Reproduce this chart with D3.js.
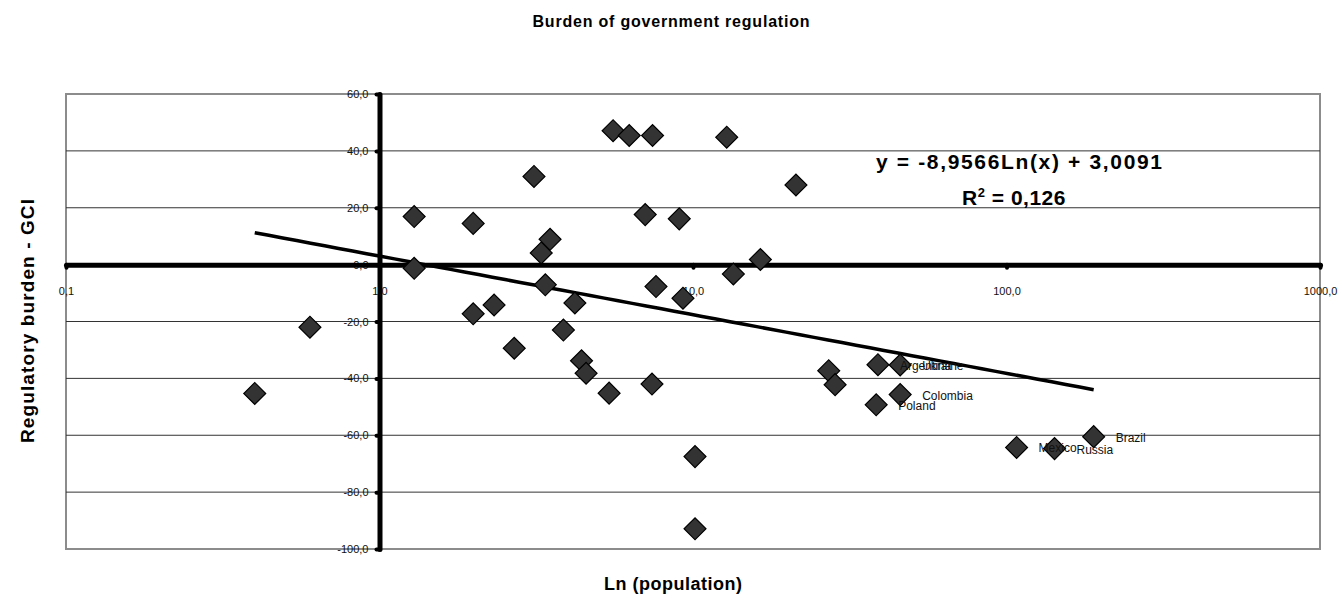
<!DOCTYPE html>
<html>
<head>
<meta charset="utf-8">
<script src="https://cdn.jsdelivr.net/npm/d3@7"></script>
<style>
  body { margin: 0; background: #fff; }
  svg { font-family: Arial, "Liberation Sans", sans-serif; }
</style>
</head>
<body>
<svg></svg>

<script>

  // population (millions) and regulatory burden score
  var population = [0.40, 0.60, 1.29, 1.29, 1.99, 1.99, 2.32, 2.69, 3.11, 3.28,
                    3.50, 3.38, 3.86, 4.20, 4.41, 4.56, 5.40, 5.56, 6.26, 7.43,
                    7.04, 7.40, 7.62, 9.04, 9.29, 10.15, 10.15, 12.81, 13.45, 16.40,
                    21.3, 27.1, 28.4, 38.9, 38.4, 45.8, 45.8, 107.7, 142.3, 189.7];
  var burden = [-45.3, -22.0, 16.9, -1.3, 14.5, -17.3, -14.2, -29.4, 31.0, 4.1,
                8.9, -7.1, -23.0, -13.5, -33.8, -38.2, -45.2, 47.1, 45.4, 45.4,
                17.6, -42.0, -7.7, 16.1, -11.8, -67.5, -92.9, 44.8, -3.3, 1.8,
                28.0, -37.3, -42.2, -35.2, -49.3, -35.3, -45.7, -64.3, -64.7, -60.5];
  var names = ["", "", "", "", "", "", "", "", "", "",
               "", "", "", "", "", "", "", "", "", "",
               "", "", "", "", "", "", "", "", "", "",
               "", "", "", "Argentina", "Poland", "Ukraine", "Colombia", "Mexico", "Russia", "Brazil"];

  var xTicks = [0.1, 1, 10, 100, 1000];
  var xTickLabels = ["0,1", "1,0", "10,0", "100,0", "1000,0"];
  var yTicks = [60, 40, 20, 0, -20, -40, -60, -80, -100];
  var yTickLabels = ["60,0", "40,0", "20,0", "0,0", "-20,0", "-40,0", "-60,0", "-80,0", "-100,0"];

  // log trend line shown on the chart
  var trendSlope = -8.9566;
  var trendIntercept = 3.0091;

  var svg = d3.select("svg").attr("width", 1342).attr("height", 603);

  var x = d3.scaleLog().domain([0.1, 1000]).range([66, 1320]);
  var y = d3.scaleLinear().domain([-100, 60]).range([549, 94]);

  // plot frame
  svg.append("rect")
    .attr("x", x(0.1)).attr("y", y(60))
    .attr("width", x(1000) - x(0.1)).attr("height", y(-100) - y(60))
    .attr("fill", "none").attr("stroke", "#8c8c8c").attr("stroke-width", 2);

  // horizontal gridlines
  svg.selectAll(".grid")
    .data(yTicks.filter(function(d) { return d != 60 && d != -100 && d != 0; }))
    .enter().append("line")
    .attr("x1", x(0.1)).attr("x2", x(1000))
    .attr("y1", function(d) { return y(d); })
    .attr("y2", function(d) { return y(d); })
    .attr("stroke", "#333").attr("stroke-width", 1);

  // y axis crosses at x = 1
  var yAxis = svg.append("g")
    .attr("transform", "translate(" + x(1) + ",0)")
    .call(d3.axisLeft(y).tickValues(yTicks).tickSize(3).tickSizeOuter(0).tickPadding(8)
      .tickFormat(function(d, i) { return yTickLabels[i]; }));
  yAxis.attr("font-size", 11).attr("font-family", null);
  yAxis.select(".domain").attr("stroke-width", 5).attr("stroke-linecap", "round");
  yAxis.selectAll(".tick line").attr("stroke-width", 4).attr("stroke-linecap", "round");
  yAxis.selectAll(".tick text").attr("fill", "#111");

  // x axis crosses at y = 0
  var xAxis = svg.append("g")
    .attr("transform", "translate(0," + y(0) + ")")
    .call(d3.axisBottom(x).tickValues(xTicks).tickSize(3).tickSizeOuter(0).tickPadding(20)
      .tickFormat(function(d, i) { return xTickLabels[i]; }));
  xAxis.attr("font-size", 11).attr("font-family", null);
  xAxis.select(".domain").attr("stroke-width", 5).attr("stroke-linecap", "round");
  xAxis.selectAll(".tick line").attr("stroke-width", 4).attr("stroke-linecap", "round");
  xAxis.selectAll(".tick text").attr("fill", "#111");

  // trend line over the data range
  var xmin = d3.min(population), xmax = d3.max(population);
  var trendX = d3.range(0, 61).map(function(i) {
    return Math.exp(Math.log(xmin) + (Math.log(xmax) - Math.log(xmin)) * i / 60);
  });
  var line = d3.line()
    .x(function(d) { return x(d); })
    .y(function(d) { return y(trendSlope * Math.log(d) + trendIntercept); });
  svg.append("path")
    .datum(trendX)
    .attr("d", line)
    .attr("fill", "none").attr("stroke", "#000").attr("stroke-width", 3.5);

  // diamonds
  var diamond = d3.symbol().type(d3.symbolSquare).size(240);
  svg.selectAll(".pt")
    .data(population)
    .enter().append("path")
    .attr("d", diamond)
    .attr("transform", function(d, i) {
      return "translate(" + x(d) + "," + y(burden[i]) + ") rotate(45)";
    })
    .attr("fill", "#333").attr("stroke", "#000").attr("stroke-width", 1.2);

  // country labels
  svg.selectAll(".lbl")
    .data(population)
    .enter().append("text")
    .attr("x", function(d) { return x(d) + 22; })
    .attr("y", function(d, i) { return y(burden[i]) + 5; })
    .attr("font-size", 12)
    .attr("fill", "#111")
    .text(function(d, i) { return names[i]; });

  // regression text
  svg.append("text")
    .attr("x", 1019).attr("y", 169)
    .attr("text-anchor", "middle")
    .attr("font-size", 21).attr("font-weight", "bold")
    .attr("textLength", 286).attr("lengthAdjust", "spacing")
    .text("y = -8,9566Ln(x) + 3,0091");

  var r2 = svg.append("text")
    .attr("x", 1014).attr("y", 205)
    .attr("text-anchor", "middle")
    .attr("font-size", 21).attr("font-weight", "bold")
    .attr("letter-spacing", 0.5);
  r2.append("tspan").text("R");
  r2.append("tspan").attr("font-size", 13).attr("dy", -8).text("2");
  r2.append("tspan").attr("dy", 8).text(" = 0,126");

  // titles
  svg.append("text")
    .attr("x", 671).attr("y", 27)
    .attr("text-anchor", "middle")
    .attr("font-size", 16).attr("font-weight", "bold")
    .attr("textLength", 277).attr("lengthAdjust", "spacing")
    .text("Burden of government regulation");

  svg.append("text")
    .attr("x", 673).attr("y", 590)
    .attr("text-anchor", "middle")
    .attr("font-size", 18).attr("font-weight", "bold")
    .attr("textLength", 138).attr("lengthAdjust", "spacing")
    .text("Ln (population)");

  svg.append("text")
    .attr("transform", "translate(34,321) rotate(-90)")
    .attr("text-anchor", "middle")
    .attr("font-size", 19).attr("font-weight", "bold")
    .attr("textLength", 244).attr("lengthAdjust", "spacing")
    .text("Regulatory burden - GCI");

</script>
</body>
</html>
